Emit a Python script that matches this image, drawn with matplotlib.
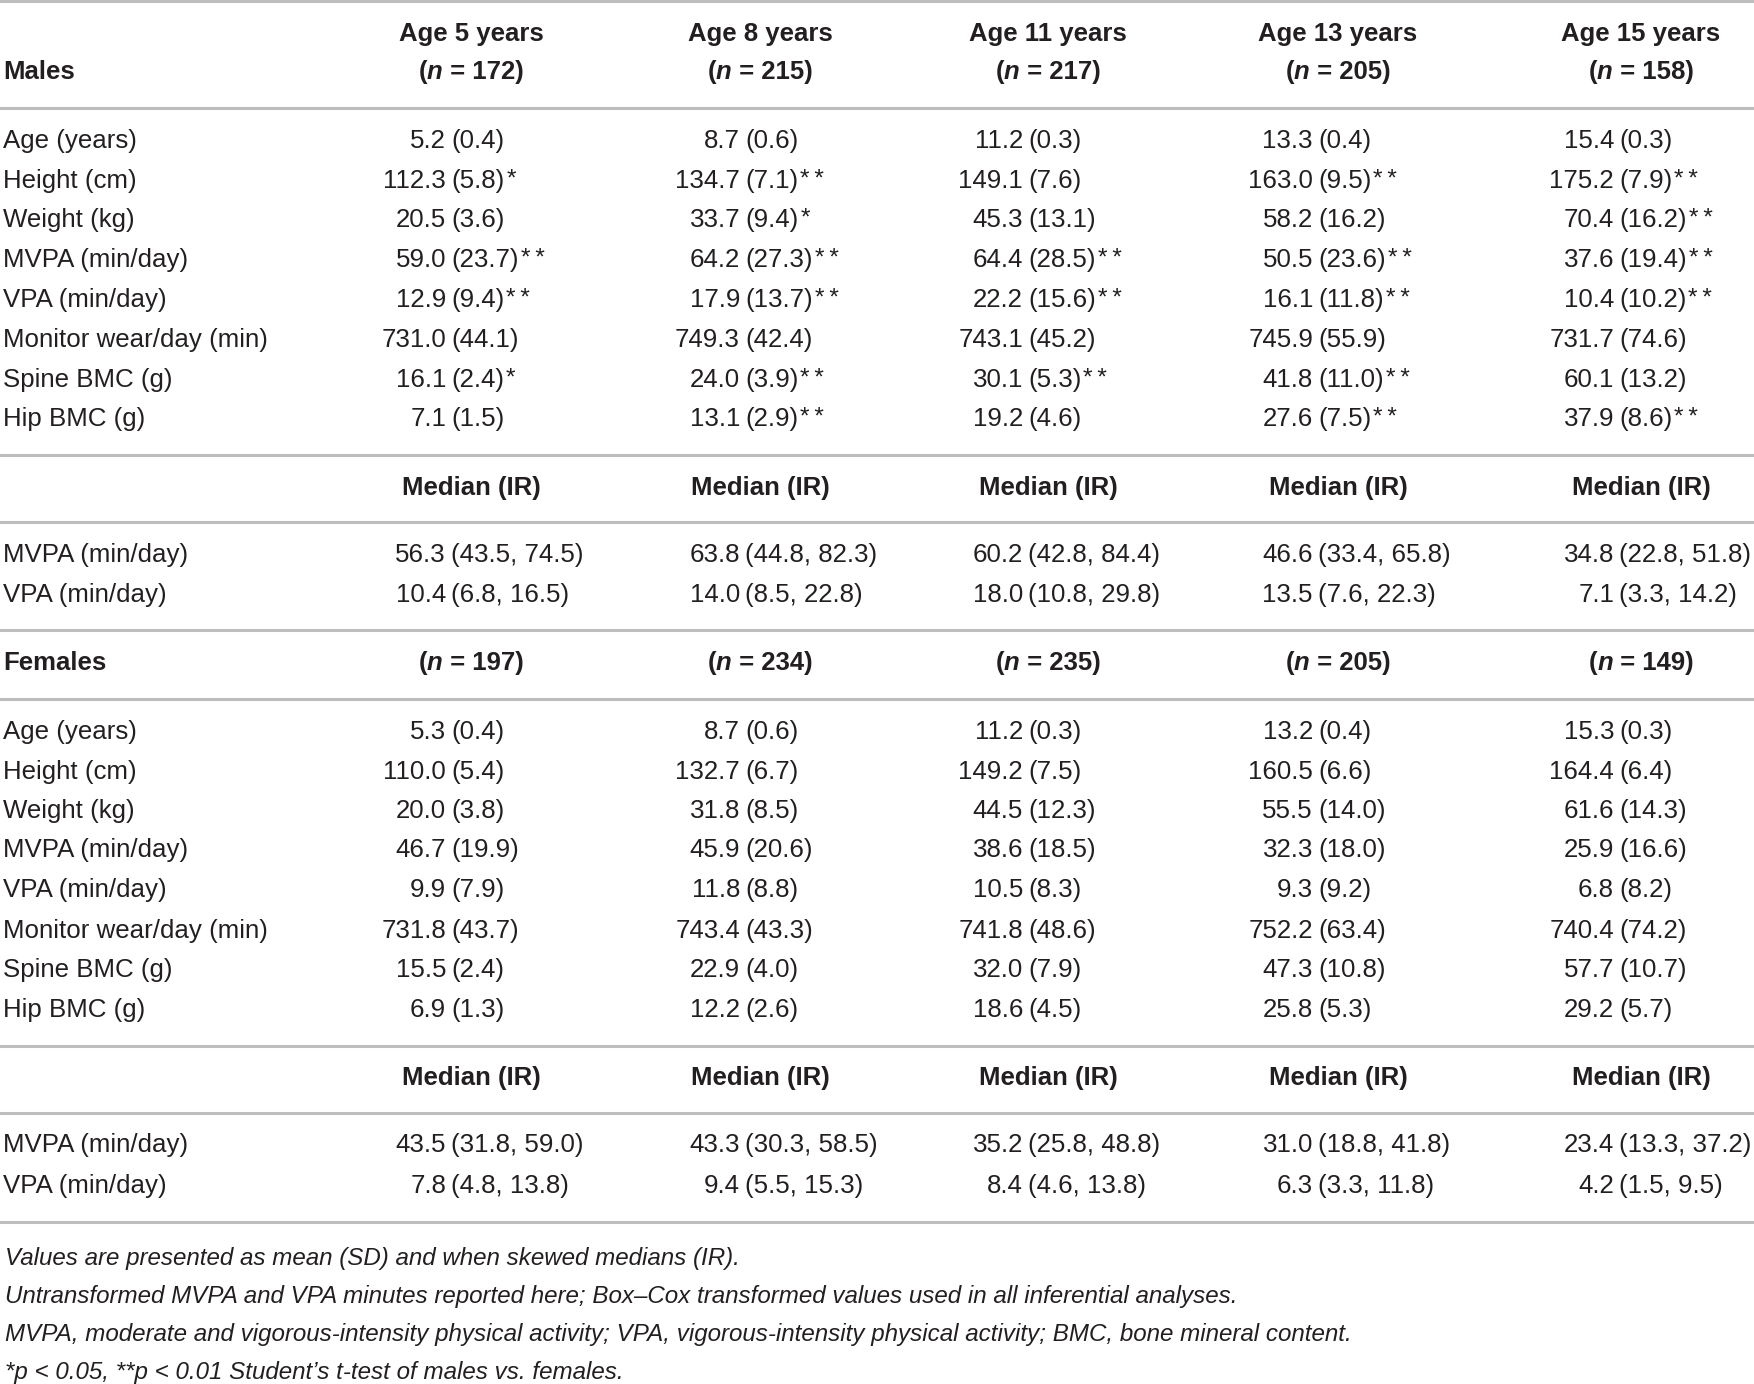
import matplotlib
matplotlib.use("Agg")
import matplotlib.pyplot as plt

# column groups
age_years = [5, 8, 11, 13, 15]
n_male = [172, 215, 217, 205, 158]
n_female = [197, 234, 235, 205, 149]

row_labels = ["Age (years)", "Height (cm)", "Weight (kg)", "MVPA (min/day)", "VPA (min/day)",
              "Monitor wear/day (min)", "Spine BMC (g)", "Hip BMC (g)"]
median_labels = ["MVPA (min/day)", "VPA (min/day)"]

# males: mean (SD), significance stars
male_mean = [[5.2, 8.7, 11.2, 13.3, 15.4],
             [112.3, 134.7, 149.1, 163.0, 175.2],
             [20.5, 33.7, 45.3, 58.2, 70.4],
             [59.0, 64.2, 64.4, 50.5, 37.6],
             [12.9, 17.9, 22.2, 16.1, 10.4],
             [731.0, 749.3, 743.1, 745.9, 731.7],
             [16.1, 24.0, 30.1, 41.8, 60.1],
             [7.1, 13.1, 19.2, 27.6, 37.9]]
male_sd = [[0.4, 0.6, 0.3, 0.4, 0.3],
           [5.8, 7.1, 7.6, 9.5, 7.9],
           [3.6, 9.4, 13.1, 16.2, 16.2],
           [23.7, 27.3, 28.5, 23.6, 19.4],
           [9.4, 13.7, 15.6, 11.8, 10.2],
           [44.1, 42.4, 45.2, 55.9, 74.6],
           [2.4, 3.9, 5.3, 11.0, 13.2],
           [1.5, 2.9, 4.6, 7.5, 8.6]]
male_sig = [[0, 0, 0, 0, 0],
            [1, 2, 0, 2, 2],
            [0, 1, 0, 0, 2],
            [2, 2, 2, 2, 2],
            [2, 2, 2, 2, 2],
            [0, 0, 0, 0, 0],
            [1, 2, 2, 2, 0],
            [0, 2, 0, 2, 2]]
male_med = [[56.3, 63.8, 60.2, 46.6, 34.8], [10.4, 14.0, 18.0, 13.5, 7.1]]
male_q1 = [[43.5, 44.8, 42.8, 33.4, 22.8], [6.8, 8.5, 10.8, 7.6, 3.3]]
male_q3 = [[74.5, 82.3, 84.4, 65.8, 51.8], [16.5, 22.8, 29.8, 22.3, 14.2]]

# females
female_mean = [[5.3, 8.7, 11.2, 13.2, 15.3],
               [110.0, 132.7, 149.2, 160.5, 164.4],
               [20.0, 31.8, 44.5, 55.5, 61.6],
               [46.7, 45.9, 38.6, 32.3, 25.9],
               [9.9, 11.8, 10.5, 9.3, 6.8],
               [731.8, 743.4, 741.8, 752.2, 740.4],
               [15.5, 22.9, 32.0, 47.3, 57.7],
               [6.9, 12.2, 18.6, 25.8, 29.2]]
female_sd = [[0.4, 0.6, 0.3, 0.4, 0.3],
             [5.4, 6.7, 7.5, 6.6, 6.4],
             [3.8, 8.5, 12.3, 14.0, 14.3],
             [19.9, 20.6, 18.5, 18.0, 16.6],
             [7.9, 8.8, 8.3, 9.2, 8.2],
             [43.7, 43.3, 48.6, 63.4, 74.2],
             [2.4, 4.0, 7.9, 10.8, 10.7],
             [1.3, 2.6, 4.5, 5.3, 5.7]]
female_med = [[43.5, 43.3, 35.2, 31.0, 23.4], [7.8, 9.4, 8.4, 6.3, 4.2]]
female_q1 = [[31.8, 30.3, 25.8, 18.8, 13.3], [4.8, 5.5, 4.6, 3.3, 1.5]]
female_q3 = [[59.0, 58.5, 48.8, 41.8, 37.2], [13.8, 15.3, 13.8, 11.8, 9.5]]

footnotes = ["Values are presented as mean (SD) and when skewed medians (IR).",
             "Untransformed MVPA and VPA minutes reported here; Box\u2013Cox transformed values used in all inferential analyses.",
             "MVPA, moderate and vigorous-intensity physical activity; VPA, vigorous-intensity physical activity; BMC, bone mineral content.",
             "*p < 0.05, **p < 0.01 Student\u2019s t-test of males vs. females."]

W, H = 1754, 1384
FONT = ["Liberation Sans", "DejaVu Sans"]
TXT = "#231f20"
RULE = "#bdbdbd"
FS = 18.6
FS_HEAD = 18.5
plt.rcParams["font.family"] = FONT

fig = plt.figure(figsize=(W / 100, H / 100), dpi=100)
ax = fig.add_axes([0, 0, 1, 1])
ax.set_xlim(0, W)
ax.set_ylim(H, 0)
ax.axis("off")
renderer = fig.canvas.get_renderer()

head_x = [471, 760, 1048, 1338, 1641]
paren_x = [451, 745, 1028, 1318, 1619]
label_x = 3

for yr in [1, 108, 455, 522, 630, 699, 1046, 1113, 1222]:
    ax.axhline(yr, color=RULE, lw=2.2)


def rich_center(xc, y, parts, size=FS_HEAD):
    arts = []
    total = 0
    for s, st in parts:
        t = ax.text(0, y, s, va="center", ha="left", fontsize=size, fontweight="bold",
                    fontstyle=st, color=TXT)
        w = t.get_window_extent(renderer).width
        arts.append((t, w))
        total += w
    x = xc - total / 2
    for t, w in arts:
        t.set_x(x)
        x += w


def cell(xp, y, left, right, stars=0):
    ax.text(xp - 5, y, left, ha="right", va="center", fontsize=FS, color=TXT)
    t = ax.text(xp, y, right, ha="left", va="center", fontsize=FS, color=TXT)
    if stars:
        ax.annotate("\u2009".join("*" * stars), xy=(1, 1), xycoords=t, xytext=(1.5, 0),
                    textcoords="offset points", ha="left", va="top",
                    fontsize=FS - 1, color=TXT)


def block(n_vals, n_y, row_y, means, sds, sigs, med_head_y, med_y, med, q1, q3, title):
    ax.text(label_x, n_y, title, ha="left", va="center", fontsize=FS_HEAD, fontweight="bold", color=TXT)
    for j, n in enumerate(n_vals):
        rich_center(head_x[j], n_y, [("(", "normal"), ("n", "italic"), (" = " + str(n) + ")", "normal")])
    for i, lab in enumerate(row_labels):
        ax.text(label_x, row_y[i], lab, ha="left", va="center", fontsize=FS, color=TXT)
        for j in range(5):
            s = sigs[i][j] if sigs else 0
            cell(paren_x[j], row_y[i], f"{means[i][j]:.1f}", f"({sds[i][j]:.1f})", s)
    for j in range(5):
        ax.text(head_x[j], med_head_y, "Median (IR)", ha="center", va="center",
                fontsize=FS_HEAD, fontweight="bold", color=TXT)
    for i, lab in enumerate(median_labels):
        ax.text(label_x, med_y[i], lab, ha="left", va="center", fontsize=FS, color=TXT)
        for j in range(5):
            cell(paren_x[j], med_y[i], f"{med[i][j]:.1f}", f"({q1[i][j]:.1f}, {q3[i][j]:.1f})")


# column headings
for j, a in enumerate(age_years):
    ax.text(head_x[j], 34, f"Age {a} years", ha="center", va="center",
            fontsize=FS_HEAD, fontweight="bold", color=TXT)

block(n_male, 72, [141, 181, 220, 260, 300, 340, 380, 419], male_mean, male_sd, male_sig,
      488, [555, 595], male_med, male_q1, male_q3, "Males")
block(n_female, 663, [732, 772, 811, 850, 890, 931, 970, 1010], female_mean, female_sd, None,
      1078, [1145, 1186], female_med, female_q1, female_q3, "Females")

for k, line in enumerate(footnotes):
    ax.text(label_x + 2, [1258, 1296, 1335, 1373][k], line, ha="left", va="center",
            fontsize=17.4, fontstyle="italic", color=TXT)

fig.savefig("out.png", dpi=100)
